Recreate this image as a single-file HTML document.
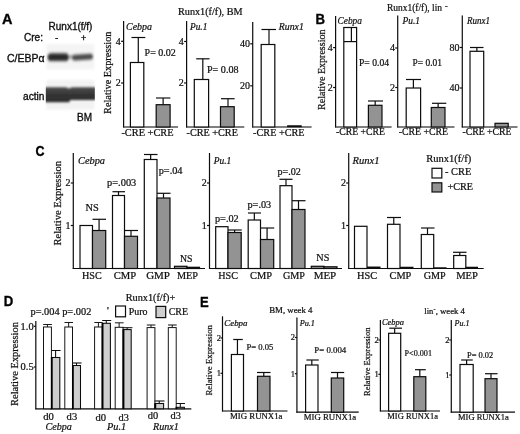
<!DOCTYPE html>
<html lang="en"><head><meta charset="utf-8"><title>Figure</title>
<style>
html,body{margin:0;padding:0;background:#fff;}
body{width:520px;height:434px;overflow:hidden;}
svg{display:block;}
text.s{font-family:"Liberation Serif", serif;stroke:#111;stroke-width:0.22px;}
text.a{font-family:"Liberation Sans", sans-serif;stroke:#111;stroke-width:0.35px;}
</style></head><body>
<svg width="520" height="434" viewBox="0 0 520 434">
<rect x="0" y="0" width="520" height="434" fill="#ffffff"/>
<filter id="soft" x="0" y="0" width="520" height="434" filterUnits="userSpaceOnUse"><feGaussianBlur stdDeviation="0.32"/></filter>
<g filter="url(#soft)">
<text class="a" x="2.00" y="24.00" font-size="14" font-weight="bold" textLength="10.50" lengthAdjust="spacingAndGlyphs" fill="#000">A</text>
<text class="a" x="48.60" y="29.50" font-size="10" textLength="43.80" lengthAdjust="spacingAndGlyphs" fill="#111">Runx1(f/f)</text>
<text class="a" x="24.00" y="41.00" font-size="10" textLength="19.00" lengthAdjust="spacingAndGlyphs" fill="#111">Cre:</text>
<text class="a" x="55.00" y="40.50" font-size="10" fill="#111">-</text>
<text class="a" x="81.00" y="41.00" font-size="9" fill="#111">+</text>
<text class="a" x="7.00" y="61.50" font-size="10" textLength="37.50" lengthAdjust="spacingAndGlyphs" fill="#111">C/EBPα</text>
<text class="a" x="23.00" y="100.00" font-size="10" textLength="21.50" lengthAdjust="spacingAndGlyphs" fill="#111">actin</text>
<text class="a" x="77.00" y="121.00" font-size="10" textLength="15.00" lengthAdjust="spacingAndGlyphs" fill="#111">BM</text>
<defs>
<filter id="b1" x="-30%" y="-80%" width="160%" height="260%"><feGaussianBlur stdDeviation="1.3 1.4"/></filter>
<filter id="b2" x="-30%" y="-80%" width="160%" height="260%"><feGaussianBlur stdDeviation="1.1 1.3"/></filter>
<filter id="b0" x="-10%" y="-10%" width="120%" height="120%"><feGaussianBlur stdDeviation="1"/></filter>
<linearGradient id="g2" x1="0" y1="0" x2="0" y2="1"><stop offset="0" stop-color="#4e4e4e"/><stop offset="0.55" stop-color="#333"/><stop offset="1" stop-color="#2c2c2c"/></linearGradient>
<clipPath id="c1"><rect x="45.8" y="43" width="49" height="27"/></clipPath>
<clipPath id="c2"><rect x="45.8" y="79.5" width="49" height="30.5"/></clipPath>
</defs>
<rect x="46.3" y="44" width="48" height="25.5" fill="#f4f4f4" filter="url(#b0)"/>
<g clip-path="url(#c1)">
<g filter="url(#b1)">
<rect x="56" y="55.3" width="28" height="3.4" fill="#9a9a9a"/>
<rect x="47.6" y="53.3" width="21.2" height="7.8" rx="3.9" fill="#2b2b2b"/>
<rect x="72" y="54.3" width="21" height="5.8" rx="2.9" fill="#484848" transform="rotate(-3.5 82 57)"/>
</g></g>
<rect x="46.3" y="80" width="48" height="29.5" fill="#f2f2f2" filter="url(#b0)"/>
<g clip-path="url(#c2)">
<g filter="url(#b2)">
<path d="M44 87.3 L66 87.3 L69 88.6 L72 87.3 L98 87.3 L98 100 L70.5 100 L69 102.2 L44 102.2 Z" fill="url(#g2)"/>
</g></g>
<text class="s" transform="translate(110.60 113.90) rotate(-90)" font-size="10" textLength="82.30" lengthAdjust="spacingAndGlyphs" fill="#111">Relative Expression</text>
<line x1="123.60" y1="21.00" x2="123.60" y2="127.50" stroke="#0c0c0c" stroke-width="1.2"/>
<line x1="123.10" y1="127.00" x2="178.00" y2="127.00" stroke="#0c0c0c" stroke-width="1.2"/>
<line x1="121.10" y1="41.30" x2="123.60" y2="41.30" stroke="#0c0c0c" stroke-width="1.2"/>
<text class="s" x="120.80" y="44.60" font-size="10" text-anchor="end" fill="#111">4</text>
<line x1="121.10" y1="83.00" x2="123.60" y2="83.00" stroke="#0c0c0c" stroke-width="1.2"/>
<text class="s" x="120.80" y="86.30" font-size="10" text-anchor="end" fill="#111">2</text>
<text class="s" x="126.00" y="29.50" font-size="10" font-style="italic" textLength="26.00" lengthAdjust="spacingAndGlyphs" fill="#111">Cebpa</text>
<line x1="138.30" y1="37.50" x2="138.30" y2="62.50" stroke="#0c0c0c" stroke-width="1.2"/>
<line x1="131.50" y1="37.50" x2="145.30" y2="37.50" stroke="#0c0c0c" stroke-width="1.2"/>
<rect x="130.40" y="62.50" width="13.40" height="64.50" fill="#fff" stroke="#0c0c0c" stroke-width="1.2"/>
<line x1="163.15" y1="98.00" x2="163.15" y2="104.70" stroke="#0c0c0c" stroke-width="1.2"/>
<line x1="156.00" y1="98.00" x2="170.30" y2="98.00" stroke="#0c0c0c" stroke-width="1.2"/>
<rect x="156.20" y="104.70" width="13.90" height="22.30" fill="#939393" stroke="#0c0c0c" stroke-width="1.2"/>
<text class="s" x="144.60" y="56.20" font-size="10" textLength="31.20" lengthAdjust="spacingAndGlyphs" fill="#111">P= 0.02</text>
<text class="s" x="121.40" y="135.70" font-size="10.2" textLength="52.20" lengthAdjust="spacingAndGlyphs" fill="#111">-CRE +CRE</text>
<line x1="186.60" y1="21.00" x2="186.60" y2="127.50" stroke="#0c0c0c" stroke-width="1.2"/>
<line x1="186.10" y1="127.00" x2="244.30" y2="127.00" stroke="#0c0c0c" stroke-width="1.2"/>
<line x1="184.10" y1="41.50" x2="186.60" y2="41.50" stroke="#0c0c0c" stroke-width="1.2"/>
<text class="s" x="183.80" y="44.80" font-size="10" text-anchor="end" fill="#111">4</text>
<line x1="184.10" y1="83.00" x2="186.60" y2="83.00" stroke="#0c0c0c" stroke-width="1.2"/>
<text class="s" x="183.80" y="86.30" font-size="10" text-anchor="end" fill="#111">2</text>
<text class="s" x="190.00" y="29.80" font-size="10" font-style="italic" textLength="17.30" lengthAdjust="spacingAndGlyphs" fill="#111">Pu.1</text>
<line x1="202.80" y1="58.80" x2="202.80" y2="79.50" stroke="#0c0c0c" stroke-width="1.2"/>
<line x1="196.20" y1="58.80" x2="209.50" y2="58.80" stroke="#0c0c0c" stroke-width="1.2"/>
<rect x="194.30" y="79.50" width="14.30" height="47.50" fill="#fff" stroke="#0c0c0c" stroke-width="1.2"/>
<line x1="228.00" y1="98.70" x2="228.00" y2="106.70" stroke="#0c0c0c" stroke-width="1.2"/>
<line x1="221.00" y1="98.70" x2="234.60" y2="98.70" stroke="#0c0c0c" stroke-width="1.2"/>
<rect x="220.50" y="106.70" width="13.70" height="20.30" fill="#939393" stroke="#0c0c0c" stroke-width="1.2"/>
<text class="s" x="207.00" y="73.00" font-size="10" textLength="31.50" lengthAdjust="spacingAndGlyphs" fill="#111">P= 0.08</text>
<text class="s" x="186.50" y="135.90" font-size="10.2" textLength="51.40" lengthAdjust="spacingAndGlyphs" fill="#111">-CRE +CRE</text>
<text class="s" x="178.00" y="14.80" font-size="10" textLength="64.50" lengthAdjust="spacingAndGlyphs" fill="#111">Runx1(f/f), BM</text>
<line x1="252.70" y1="22.00" x2="252.70" y2="127.50" stroke="#0c0c0c" stroke-width="1.2"/>
<line x1="252.20" y1="127.00" x2="311.60" y2="127.00" stroke="#0c0c0c" stroke-width="1.2"/>
<line x1="250.20" y1="43.80" x2="252.70" y2="43.80" stroke="#0c0c0c" stroke-width="1.2"/>
<text class="s" x="249.90" y="47.10" font-size="10" text-anchor="end" fill="#111">40</text>
<line x1="250.20" y1="85.80" x2="252.70" y2="85.80" stroke="#0c0c0c" stroke-width="1.2"/>
<text class="s" x="249.90" y="89.10" font-size="10" text-anchor="end" fill="#111">20</text>
<text class="s" x="278.80" y="29.80" font-size="10" font-style="italic" textLength="25.00" lengthAdjust="spacingAndGlyphs" fill="#111">Runx1</text>
<line x1="269.00" y1="29.50" x2="269.00" y2="44.50" stroke="#0c0c0c" stroke-width="1.2"/>
<line x1="261.50" y1="29.50" x2="276.00" y2="29.50" stroke="#0c0c0c" stroke-width="1.2"/>
<rect x="261.20" y="44.50" width="13.60" height="82.50" fill="#fff" stroke="#0c0c0c" stroke-width="1.2"/>
<rect x="287.60" y="125.80" width="13.60" height="1.00" fill="#0c0c0c" stroke="#0c0c0c" stroke-width="1"/>
<text class="s" x="253.10" y="136.30" font-size="10.2" textLength="51.50" lengthAdjust="spacingAndGlyphs" fill="#111">-CRE +CRE</text>
<text class="a" x="315.50" y="24.00" font-size="14" font-weight="bold" textLength="9.50" lengthAdjust="spacingAndGlyphs" fill="#000">B</text>
<text class="s" transform="translate(325.00 110.00) rotate(-90)" font-size="10" textLength="80.50" lengthAdjust="spacingAndGlyphs" fill="#111">Relative Expression</text>
<text class="s" x="387.00" y="11.30" font-size="10" textLength="55.00" lengthAdjust="spacingAndGlyphs" fill="#111">Runx1(f/f), lin</text>
<text class="s" x="445.00" y="8.50" font-size="8" fill="#111">-</text>
<line x1="335.60" y1="16.00" x2="335.60" y2="127.50" stroke="#0c0c0c" stroke-width="1.2"/>
<line x1="335.10" y1="127.00" x2="391.60" y2="127.00" stroke="#0c0c0c" stroke-width="1.2"/>
<line x1="333.10" y1="47.60" x2="335.60" y2="47.60" stroke="#0c0c0c" stroke-width="1.2"/>
<text class="s" x="332.80" y="50.90" font-size="10" text-anchor="end" fill="#111">4</text>
<line x1="333.10" y1="87.50" x2="335.60" y2="87.50" stroke="#0c0c0c" stroke-width="1.2"/>
<text class="s" x="332.80" y="90.80" font-size="10" text-anchor="end" fill="#111">2</text>
<text class="s" x="337.50" y="24.00" font-size="10" font-style="italic" textLength="24.50" lengthAdjust="spacingAndGlyphs" fill="#111">Cebpa</text>
<rect x="343.80" y="27.50" width="12.80" height="99.50" fill="#fff" stroke="#0c0c0c" stroke-width="1.2"/>
<line x1="351.40" y1="27.50" x2="351.40" y2="41.60" stroke="#0c0c0c" stroke-width="1.2"/>
<line x1="344.00" y1="41.60" x2="357.00" y2="41.60" stroke="#0c0c0c" stroke-width="1.2"/>
<line x1="375.20" y1="101.00" x2="375.20" y2="105.30" stroke="#0c0c0c" stroke-width="1.2"/>
<line x1="368.00" y1="101.00" x2="383.00" y2="101.00" stroke="#0c0c0c" stroke-width="1.2"/>
<rect x="368.40" y="105.30" width="13.60" height="21.70" fill="#939393" stroke="#0c0c0c" stroke-width="1.2"/>
<text class="s" x="359.00" y="65.50" font-size="10" textLength="30.00" lengthAdjust="spacingAndGlyphs" fill="#111">P= 0.04</text>
<text class="s" x="336.00" y="135.20" font-size="10" textLength="49.00" lengthAdjust="spacingAndGlyphs" fill="#111">-CRE +CRE</text>
<line x1="397.70" y1="15.50" x2="397.70" y2="127.50" stroke="#0c0c0c" stroke-width="1.2"/>
<line x1="397.20" y1="127.00" x2="454.50" y2="127.00" stroke="#0c0c0c" stroke-width="1.2"/>
<line x1="395.20" y1="48.00" x2="397.70" y2="48.00" stroke="#0c0c0c" stroke-width="1.2"/>
<text class="s" x="394.90" y="51.30" font-size="10" text-anchor="end" fill="#111">4</text>
<line x1="395.20" y1="87.50" x2="397.70" y2="87.50" stroke="#0c0c0c" stroke-width="1.2"/>
<text class="s" x="394.90" y="90.80" font-size="10" text-anchor="end" fill="#111">2</text>
<text class="s" x="402.50" y="24.00" font-size="10" font-style="italic" textLength="17.50" lengthAdjust="spacingAndGlyphs" fill="#111">Pu.1</text>
<line x1="413.40" y1="79.50" x2="413.40" y2="88.00" stroke="#0c0c0c" stroke-width="1.2"/>
<line x1="406.00" y1="79.50" x2="421.00" y2="79.50" stroke="#0c0c0c" stroke-width="1.2"/>
<rect x="406.20" y="88.00" width="14.40" height="39.00" fill="#fff" stroke="#0c0c0c" stroke-width="1.2"/>
<line x1="438.15" y1="103.30" x2="438.15" y2="107.50" stroke="#0c0c0c" stroke-width="1.2"/>
<line x1="432.00" y1="103.30" x2="446.30" y2="103.30" stroke="#0c0c0c" stroke-width="1.2"/>
<rect x="431.30" y="107.50" width="13.70" height="19.50" fill="#939393" stroke="#0c0c0c" stroke-width="1.2"/>
<text class="s" x="412.50" y="65.50" font-size="10" textLength="29.50" lengthAdjust="spacingAndGlyphs" fill="#111">P= 0.01</text>
<text class="s" x="398.70" y="135.20" font-size="10" textLength="49.40" lengthAdjust="spacingAndGlyphs" fill="#111">-CRE +CRE</text>
<line x1="462.30" y1="15.50" x2="462.30" y2="127.50" stroke="#0c0c0c" stroke-width="1.2"/>
<line x1="461.80" y1="127.00" x2="517.50" y2="127.00" stroke="#0c0c0c" stroke-width="1.2"/>
<line x1="459.80" y1="47.50" x2="462.30" y2="47.50" stroke="#0c0c0c" stroke-width="1.2"/>
<text class="s" x="459.50" y="50.80" font-size="10" text-anchor="end" fill="#111">80</text>
<line x1="459.80" y1="88.00" x2="462.30" y2="88.00" stroke="#0c0c0c" stroke-width="1.2"/>
<text class="s" x="459.50" y="91.30" font-size="10" text-anchor="end" fill="#111">40</text>
<text class="s" x="467.00" y="24.00" font-size="10" font-style="italic" textLength="23.00" lengthAdjust="spacingAndGlyphs" fill="#111">Runx1</text>
<line x1="476.85" y1="47.50" x2="476.85" y2="51.30" stroke="#0c0c0c" stroke-width="1.2"/>
<line x1="470.00" y1="47.50" x2="483.50" y2="47.50" stroke="#0c0c0c" stroke-width="1.2"/>
<rect x="470.00" y="51.30" width="13.70" height="75.70" fill="#fff" stroke="#0c0c0c" stroke-width="1.2"/>
<rect x="495.00" y="123.30" width="13.20" height="3.70" fill="#939393" stroke="#0c0c0c" stroke-width="1.2"/>
<text class="s" x="462.40" y="135.20" font-size="10" textLength="49.20" lengthAdjust="spacingAndGlyphs" fill="#111">-CRE +CRE</text>
<text class="a" x="35.50" y="156.00" font-size="14" font-weight="bold" textLength="9.00" lengthAdjust="spacingAndGlyphs" fill="#000">C</text>
<text class="s" transform="translate(60.70 245.50) rotate(-90)" font-size="10" textLength="84.50" lengthAdjust="spacingAndGlyphs" fill="#111">Relative Expression</text>
<line x1="73.30" y1="153.00" x2="73.30" y2="269.00" stroke="#0c0c0c" stroke-width="1.2"/>
<line x1="72.80" y1="268.50" x2="205.00" y2="268.50" stroke="#0c0c0c" stroke-width="1.2"/>
<line x1="70.80" y1="183.00" x2="73.30" y2="183.00" stroke="#0c0c0c" stroke-width="1.2"/>
<text class="s" x="70.50" y="186.30" font-size="10" text-anchor="end" fill="#111">2</text>
<line x1="70.80" y1="225.50" x2="73.30" y2="225.50" stroke="#0c0c0c" stroke-width="1.2"/>
<text class="s" x="70.50" y="228.80" font-size="10" text-anchor="end" fill="#111">1</text>
<text class="s" x="78.00" y="163.50" font-size="10" font-style="italic" textLength="27.00" lengthAdjust="spacingAndGlyphs" fill="#111">Cebpa</text>
<rect x="80.00" y="225.50" width="12.50" height="43.00" fill="#fff" stroke="#0c0c0c" stroke-width="1.2"/>
<line x1="99.10" y1="219.30" x2="99.10" y2="230.50" stroke="#0c0c0c" stroke-width="1.2"/>
<line x1="92.50" y1="219.30" x2="106.00" y2="219.30" stroke="#0c0c0c" stroke-width="1.2"/>
<rect x="92.50" y="230.50" width="13.20" height="38.00" fill="#939393" stroke="#0c0c0c" stroke-width="1.2"/>
<line x1="118.50" y1="191.70" x2="118.50" y2="195.50" stroke="#0c0c0c" stroke-width="1.2"/>
<line x1="112.50" y1="191.70" x2="125.00" y2="191.70" stroke="#0c0c0c" stroke-width="1.2"/>
<rect x="112.50" y="195.50" width="12.00" height="73.00" fill="#fff" stroke="#0c0c0c" stroke-width="1.2"/>
<line x1="131.00" y1="230.50" x2="131.00" y2="236.30" stroke="#0c0c0c" stroke-width="1.2"/>
<line x1="124.50" y1="230.50" x2="138.00" y2="230.50" stroke="#0c0c0c" stroke-width="1.2"/>
<rect x="124.50" y="236.30" width="13.00" height="32.20" fill="#939393" stroke="#0c0c0c" stroke-width="1.2"/>
<line x1="150.65" y1="154.50" x2="150.65" y2="159.50" stroke="#0c0c0c" stroke-width="1.2"/>
<line x1="144.00" y1="154.50" x2="157.50" y2="154.50" stroke="#0c0c0c" stroke-width="1.2"/>
<rect x="144.30" y="159.50" width="12.70" height="109.00" fill="#fff" stroke="#0c0c0c" stroke-width="1.2"/>
<line x1="163.50" y1="193.30" x2="163.50" y2="198.00" stroke="#0c0c0c" stroke-width="1.2"/>
<line x1="157.00" y1="193.30" x2="170.50" y2="193.30" stroke="#0c0c0c" stroke-width="1.2"/>
<rect x="157.00" y="198.00" width="13.00" height="70.50" fill="#939393" stroke="#0c0c0c" stroke-width="1.2"/>
<rect x="174.50" y="266.30" width="12.50" height="2.20" fill="#939393" stroke="#0c0c0c" stroke-width="1.2"/>
<rect x="187.00" y="267.30" width="12.50" height="1.20" fill="#939393" stroke="#0c0c0c" stroke-width="1.2"/>
<text class="s" x="85.50" y="211.30" font-size="10" textLength="13.30" lengthAdjust="spacingAndGlyphs" fill="#111">NS</text>
<text class="s" x="107.00" y="186.30" font-size="10" textLength="29.30" lengthAdjust="spacingAndGlyphs" fill="#111">p=.003</text>
<text class="s" x="158.70" y="173.70" font-size="10" textLength="23.80" lengthAdjust="spacingAndGlyphs" fill="#111">p=.04</text>
<text class="s" x="180.00" y="261.70" font-size="10" textLength="12.50" lengthAdjust="spacingAndGlyphs" fill="#111">NS</text>
<text class="s" x="82.00" y="279.00" font-size="10" textLength="19.70" lengthAdjust="spacingAndGlyphs" fill="#111">HSC</text>
<text class="s" x="113.70" y="279.00" font-size="10" textLength="22.50" lengthAdjust="spacingAndGlyphs" fill="#111">CMP</text>
<text class="s" x="146.20" y="279.00" font-size="10" textLength="23.80" lengthAdjust="spacingAndGlyphs" fill="#111">GMP</text>
<text class="s" x="177.00" y="279.00" font-size="10" textLength="21.00" lengthAdjust="spacingAndGlyphs" fill="#111">MEP</text>
<line x1="209.50" y1="153.00" x2="209.50" y2="269.00" stroke="#0c0c0c" stroke-width="1.2"/>
<line x1="209.00" y1="268.50" x2="342.00" y2="268.50" stroke="#0c0c0c" stroke-width="1.2"/>
<line x1="207.00" y1="183.00" x2="209.50" y2="183.00" stroke="#0c0c0c" stroke-width="1.2"/>
<text class="s" x="206.70" y="186.30" font-size="10" text-anchor="end" fill="#111">2</text>
<line x1="207.00" y1="225.50" x2="209.50" y2="225.50" stroke="#0c0c0c" stroke-width="1.2"/>
<text class="s" x="206.70" y="228.80" font-size="10" text-anchor="end" fill="#111">1</text>
<text class="s" x="213.70" y="164.30" font-size="10" font-style="italic" textLength="17.50" lengthAdjust="spacingAndGlyphs" fill="#111">Pu.1</text>
<rect x="215.70" y="226.70" width="12.30" height="41.80" fill="#fff" stroke="#0c0c0c" stroke-width="1.2"/>
<line x1="234.60" y1="230.00" x2="234.60" y2="232.50" stroke="#0c0c0c" stroke-width="1.2"/>
<line x1="228.00" y1="230.00" x2="241.70" y2="230.00" stroke="#0c0c0c" stroke-width="1.2"/>
<rect x="228.00" y="232.50" width="13.20" height="36.00" fill="#939393" stroke="#0c0c0c" stroke-width="1.2"/>
<line x1="254.35" y1="213.00" x2="254.35" y2="220.00" stroke="#0c0c0c" stroke-width="1.2"/>
<line x1="248.00" y1="213.00" x2="261.00" y2="213.00" stroke="#0c0c0c" stroke-width="1.2"/>
<rect x="248.20" y="220.00" width="12.30" height="48.50" fill="#fff" stroke="#0c0c0c" stroke-width="1.2"/>
<line x1="267.10" y1="228.00" x2="267.10" y2="239.50" stroke="#0c0c0c" stroke-width="1.2"/>
<line x1="260.50" y1="228.00" x2="274.20" y2="228.00" stroke="#0c0c0c" stroke-width="1.2"/>
<rect x="260.50" y="239.50" width="13.20" height="29.00" fill="#939393" stroke="#0c0c0c" stroke-width="1.2"/>
<line x1="286.00" y1="179.30" x2="286.00" y2="185.70" stroke="#0c0c0c" stroke-width="1.2"/>
<line x1="279.50" y1="179.30" x2="292.50" y2="179.30" stroke="#0c0c0c" stroke-width="1.2"/>
<rect x="280.00" y="185.70" width="12.00" height="82.80" fill="#fff" stroke="#0c0c0c" stroke-width="1.2"/>
<line x1="298.50" y1="200.70" x2="298.50" y2="209.50" stroke="#0c0c0c" stroke-width="1.2"/>
<line x1="292.00" y1="200.70" x2="305.50" y2="200.70" stroke="#0c0c0c" stroke-width="1.2"/>
<rect x="292.00" y="209.50" width="13.00" height="59.00" fill="#939393" stroke="#0c0c0c" stroke-width="1.2"/>
<rect x="311.30" y="266.30" width="12.70" height="2.20" fill="#939393" stroke="#0c0c0c" stroke-width="1.2"/>
<rect x="324.00" y="266.80" width="13.00" height="1.70" fill="#939393" stroke="#0c0c0c" stroke-width="1.2"/>
<text class="s" x="215.00" y="221.70" font-size="10" textLength="23.70" lengthAdjust="spacingAndGlyphs" fill="#111">p=.02</text>
<text class="s" x="247.50" y="207.50" font-size="10" textLength="23.70" lengthAdjust="spacingAndGlyphs" fill="#111">p=.03</text>
<text class="s" x="277.50" y="175.00" font-size="10" textLength="23.30" lengthAdjust="spacingAndGlyphs" fill="#111">p=.02</text>
<text class="s" x="316.30" y="261.30" font-size="10" textLength="13.00" lengthAdjust="spacingAndGlyphs" fill="#111">NS</text>
<text class="s" x="218.30" y="279.00" font-size="10" textLength="19.70" lengthAdjust="spacingAndGlyphs" fill="#111">HSC</text>
<text class="s" x="250.00" y="279.00" font-size="10" textLength="22.00" lengthAdjust="spacingAndGlyphs" fill="#111">CMP</text>
<text class="s" x="283.00" y="279.00" font-size="10" textLength="22.00" lengthAdjust="spacingAndGlyphs" fill="#111">GMP</text>
<text class="s" x="313.70" y="279.00" font-size="10" textLength="22.50" lengthAdjust="spacingAndGlyphs" fill="#111">MEP</text>
<line x1="348.70" y1="153.00" x2="348.70" y2="269.00" stroke="#0c0c0c" stroke-width="1.2"/>
<line x1="348.20" y1="268.50" x2="483.70" y2="268.50" stroke="#0c0c0c" stroke-width="1.2"/>
<line x1="346.20" y1="183.00" x2="348.70" y2="183.00" stroke="#0c0c0c" stroke-width="1.2"/>
<text class="s" x="345.90" y="186.30" font-size="10" text-anchor="end" fill="#111">2</text>
<line x1="346.20" y1="225.50" x2="348.70" y2="225.50" stroke="#0c0c0c" stroke-width="1.2"/>
<text class="s" x="345.90" y="228.80" font-size="10" text-anchor="end" fill="#111">1</text>
<text class="s" x="352.50" y="164.00" font-size="10" font-style="italic" textLength="27.00" lengthAdjust="spacingAndGlyphs" fill="#111">Runx1</text>
<rect x="354.50" y="226.30" width="12.50" height="42.20" fill="#fff" stroke="#0c0c0c" stroke-width="1.2"/>
<line x1="367.00" y1="267.50" x2="380.50" y2="267.50" stroke="#0c0c0c" stroke-width="1.9"/>
<line x1="393.75" y1="217.50" x2="393.75" y2="224.30" stroke="#0c0c0c" stroke-width="1.2"/>
<line x1="387.00" y1="217.50" x2="401.00" y2="217.50" stroke="#0c0c0c" stroke-width="1.2"/>
<rect x="387.50" y="224.30" width="12.50" height="44.20" fill="#fff" stroke="#0c0c0c" stroke-width="1.2"/>
<line x1="400.00" y1="267.60" x2="413.50" y2="267.60" stroke="#0c0c0c" stroke-width="1.7"/>
<line x1="427.50" y1="228.00" x2="427.50" y2="234.50" stroke="#0c0c0c" stroke-width="1.2"/>
<line x1="421.00" y1="228.00" x2="434.50" y2="228.00" stroke="#0c0c0c" stroke-width="1.2"/>
<rect x="421.30" y="234.50" width="12.40" height="34.00" fill="#fff" stroke="#0c0c0c" stroke-width="1.2"/>
<line x1="433.70" y1="267.90" x2="446.50" y2="267.90" stroke="#0c0c0c" stroke-width="1.3"/>
<line x1="459.75" y1="252.30" x2="459.75" y2="255.50" stroke="#0c0c0c" stroke-width="1.2"/>
<line x1="453.00" y1="252.30" x2="466.50" y2="252.30" stroke="#0c0c0c" stroke-width="1.2"/>
<rect x="453.70" y="255.50" width="12.10" height="13.00" fill="#fff" stroke="#0c0c0c" stroke-width="1.2"/>
<line x1="465.80" y1="267.60" x2="478.00" y2="267.60" stroke="#0c0c0c" stroke-width="1.7"/>
<text class="s" x="357.00" y="279.30" font-size="10" textLength="20.00" lengthAdjust="spacingAndGlyphs" fill="#111">HSC</text>
<text class="s" x="389.50" y="279.30" font-size="10" textLength="21.80" lengthAdjust="spacingAndGlyphs" fill="#111">CMP</text>
<text class="s" x="423.70" y="279.30" font-size="10" textLength="22.00" lengthAdjust="spacingAndGlyphs" fill="#111">GMP</text>
<text class="s" x="456.20" y="279.30" font-size="10" textLength="21.80" lengthAdjust="spacingAndGlyphs" fill="#111">MEP</text>
<text class="s" x="426.30" y="161.90" font-size="10" textLength="45.00" lengthAdjust="spacingAndGlyphs" fill="#111">Runx1(f/f)</text>
<rect x="432.00" y="168.30" width="9.80" height="9.70" fill="#fff" stroke="#0c0c0c" stroke-width="1.2"/>
<text class="s" x="445.00" y="174.50" font-size="10" textLength="26.30" lengthAdjust="spacingAndGlyphs" fill="#111">- CRE</text>
<rect x="432.00" y="182.80" width="9.80" height="9.20" fill="#939393" stroke="#0c0c0c" stroke-width="1.2"/>
<text class="s" x="447.50" y="190.00" font-size="10" textLength="25.50" lengthAdjust="spacingAndGlyphs" fill="#111">+CRE</text>
<text class="a" x="3.70" y="306.00" font-size="14" font-weight="bold" textLength="9.50" lengthAdjust="spacingAndGlyphs" fill="#000">D</text>
<text class="s" transform="translate(18.00 406.00) rotate(-90)" font-size="10" textLength="84.00" lengthAdjust="spacingAndGlyphs" fill="#111">Relative Expression</text>
<line x1="35.80" y1="321.00" x2="35.80" y2="409.30" stroke="#0c0c0c" stroke-width="1.2"/>
<line x1="35.30" y1="408.80" x2="191.30" y2="408.80" stroke="#0c0c0c" stroke-width="1.2"/>
<line x1="33.80" y1="326.30" x2="35.80" y2="326.30" stroke="#0c0c0c" stroke-width="1.2"/>
<text class="s" x="33.60" y="329.60" font-size="10" text-anchor="end" textLength="13.00" lengthAdjust="spacingAndGlyphs" fill="#111">1.0</text>
<line x1="33.80" y1="367.00" x2="35.80" y2="367.00" stroke="#0c0c0c" stroke-width="1.2"/>
<text class="s" x="33.60" y="370.30" font-size="10" text-anchor="end" textLength="13.00" lengthAdjust="spacingAndGlyphs" fill="#111">0.5</text>
<line x1="47.45" y1="324.50" x2="47.45" y2="327.00" stroke="#0c0c0c" stroke-width="0.95"/>
<line x1="43.20" y1="324.50" x2="51.90" y2="324.50" stroke="#0c0c0c" stroke-width="0.95"/>
<rect x="43.50" y="327.00" width="7.90" height="81.80" fill="#fff" stroke="#0c0c0c" stroke-width="0.95"/>
<line x1="55.60" y1="350.50" x2="55.60" y2="357.50" stroke="#0c0c0c" stroke-width="1.05"/>
<line x1="51.40" y1="350.50" x2="60.60" y2="350.50" stroke="#0c0c0c" stroke-width="1.05"/>
<rect x="51.40" y="357.50" width="8.40" height="51.30" fill="#cecece" stroke="#0c0c0c" stroke-width="1.05"/>
<line x1="51.85" y1="357.20" x2="51.85" y2="408.80" stroke="#000" stroke-width="1.7"/>
<line x1="68.65" y1="322.50" x2="68.65" y2="327.00" stroke="#0c0c0c" stroke-width="0.95"/>
<line x1="64.50" y1="322.50" x2="73.00" y2="322.50" stroke="#0c0c0c" stroke-width="0.95"/>
<rect x="64.80" y="327.00" width="7.70" height="81.80" fill="#fff" stroke="#0c0c0c" stroke-width="0.95"/>
<line x1="76.50" y1="363.00" x2="76.50" y2="365.50" stroke="#0c0c0c" stroke-width="1.05"/>
<line x1="73.00" y1="363.00" x2="81.50" y2="363.00" stroke="#0c0c0c" stroke-width="1.05"/>
<rect x="72.50" y="365.50" width="8.00" height="43.30" fill="#cecece" stroke="#0c0c0c" stroke-width="1.05"/>
<line x1="72.95" y1="365.20" x2="72.95" y2="408.80" stroke="#000" stroke-width="1.7"/>
<line x1="98.40" y1="322.50" x2="98.40" y2="327.00" stroke="#0c0c0c" stroke-width="0.95"/>
<line x1="94.30" y1="322.50" x2="102.70" y2="322.50" stroke="#0c0c0c" stroke-width="0.95"/>
<rect x="94.60" y="327.00" width="7.60" height="81.80" fill="#fff" stroke="#0c0c0c" stroke-width="0.95"/>
<line x1="106.30" y1="320.50" x2="106.30" y2="323.30" stroke="#0c0c0c" stroke-width="1.05"/>
<line x1="102.20" y1="320.50" x2="111.20" y2="320.50" stroke="#0c0c0c" stroke-width="1.05"/>
<rect x="102.20" y="323.30" width="8.20" height="85.50" fill="#cecece" stroke="#0c0c0c" stroke-width="1.05"/>
<line x1="102.65" y1="323.00" x2="102.65" y2="408.80" stroke="#000" stroke-width="1.7"/>
<line x1="119.15" y1="322.80" x2="119.15" y2="327.30" stroke="#0c0c0c" stroke-width="0.95"/>
<line x1="114.90" y1="322.80" x2="123.60" y2="322.80" stroke="#0c0c0c" stroke-width="0.95"/>
<rect x="115.20" y="327.30" width="7.90" height="81.50" fill="#fff" stroke="#0c0c0c" stroke-width="0.95"/>
<line x1="127.15" y1="327.70" x2="127.15" y2="329.60" stroke="#0c0c0c" stroke-width="1.05"/>
<line x1="122.50" y1="327.70" x2="132.40" y2="327.70" stroke="#0c0c0c" stroke-width="1.05"/>
<rect x="123.10" y="329.60" width="8.10" height="79.20" fill="#cecece" stroke="#0c0c0c" stroke-width="1.05"/>
<line x1="123.55" y1="329.30" x2="123.55" y2="408.80" stroke="#000" stroke-width="1.7"/>
<line x1="151.00" y1="325.00" x2="151.00" y2="327.60" stroke="#0c0c0c" stroke-width="0.95"/>
<line x1="146.80" y1="325.00" x2="155.40" y2="325.00" stroke="#0c0c0c" stroke-width="0.95"/>
<rect x="147.10" y="327.60" width="7.80" height="81.20" fill="#fff" stroke="#0c0c0c" stroke-width="0.95"/>
<line x1="159.25" y1="401.00" x2="159.25" y2="403.50" stroke="#0c0c0c" stroke-width="1.05"/>
<line x1="154.50" y1="401.00" x2="164.50" y2="401.00" stroke="#0c0c0c" stroke-width="1.05"/>
<rect x="154.90" y="403.50" width="8.70" height="5.30" fill="#cecece" stroke="#0c0c0c" stroke-width="1.05"/>
<line x1="155.35" y1="403.20" x2="155.35" y2="408.80" stroke="#000" stroke-width="1.7"/>
<line x1="172.25" y1="325.00" x2="172.25" y2="327.60" stroke="#0c0c0c" stroke-width="0.95"/>
<line x1="168.00" y1="325.00" x2="176.70" y2="325.00" stroke="#0c0c0c" stroke-width="0.95"/>
<rect x="168.30" y="327.60" width="7.90" height="81.20" fill="#fff" stroke="#0c0c0c" stroke-width="0.95"/>
<line x1="180.30" y1="403.50" x2="180.30" y2="407.30" stroke="#0c0c0c" stroke-width="1.05"/>
<line x1="176.20" y1="403.50" x2="185.00" y2="403.50" stroke="#0c0c0c" stroke-width="1.05"/>
<rect x="176.20" y="407.30" width="8.20" height="1.50" fill="#cecece" stroke="#0c0c0c" stroke-width="1.05"/>
<line x1="176.65" y1="407.00" x2="176.65" y2="408.80" stroke="#000" stroke-width="1.7"/>
<text class="s" x="30.50" y="314.80" font-size="10" textLength="60.80" lengthAdjust="spacingAndGlyphs" fill="#111">p=.004 p=.002</text>
<text class="s" x="106.60" y="314.00" font-size="10" font-weight="bold" fill="#111">'</text>
<text class="s" x="125.80" y="301.30" font-size="10" textLength="49.40" lengthAdjust="spacingAndGlyphs" fill="#111">Runx1(f/f)+</text>
<rect x="115.60" y="306.00" width="9.90" height="10.80" fill="#fff" stroke="#0c0c0c" stroke-width="1.2"/>
<text class="s" x="128.70" y="314.50" font-size="10" textLength="18.80" lengthAdjust="spacingAndGlyphs" fill="#111">Puro</text>
<rect x="156.00" y="306.40" width="9.70" height="11.20" fill="#cecece" stroke="#0c0c0c" stroke-width="1.2"/>
<text class="s" x="168.70" y="314.50" font-size="10" textLength="19.30" lengthAdjust="spacingAndGlyphs" fill="#111">CRE</text>
<text class="s" x="43.30" y="420.00" font-size="10" textLength="10.60" lengthAdjust="spacingAndGlyphs" fill="#111">d0</text>
<text class="s" x="66.60" y="420.00" font-size="10" textLength="10.60" lengthAdjust="spacingAndGlyphs" fill="#111">d3</text>
<text class="s" x="95.50" y="420.80" font-size="10" textLength="10.60" lengthAdjust="spacingAndGlyphs" fill="#111">d0</text>
<text class="s" x="118.60" y="420.80" font-size="10" textLength="10.40" lengthAdjust="spacingAndGlyphs" fill="#111">d3</text>
<text class="s" x="147.80" y="418.80" font-size="10" textLength="10.40" lengthAdjust="spacingAndGlyphs" fill="#111">d0</text>
<text class="s" x="170.60" y="418.80" font-size="10" textLength="10.40" lengthAdjust="spacingAndGlyphs" fill="#111">d3</text>
<text class="s" x="45.50" y="429.90" font-size="10" font-style="italic" textLength="26.40" lengthAdjust="spacingAndGlyphs" fill="#111">Cebpa</text>
<text class="s" x="107.00" y="429.70" font-size="10" font-style="italic" textLength="19.20" lengthAdjust="spacingAndGlyphs" fill="#111">Pu.1</text>
<text class="s" x="153.00" y="429.70" font-size="10" font-style="italic" textLength="25.80" lengthAdjust="spacingAndGlyphs" fill="#111">Runx1</text>
<text class="a" x="200.00" y="306.70" font-size="14" font-weight="bold" textLength="8.70" lengthAdjust="spacingAndGlyphs" fill="#000">E</text>
<text class="s" transform="translate(212.30 395.50) rotate(-90)" font-size="8.5" textLength="70.50" lengthAdjust="spacingAndGlyphs" fill="#111">Relative Expression</text>
<text class="s" x="269.20" y="312.70" font-size="8.5" textLength="43.30" lengthAdjust="spacingAndGlyphs" fill="#111">BM, week 4</text>
<line x1="222.50" y1="316.30" x2="222.50" y2="411.50" stroke="#0c0c0c" stroke-width="1.2"/>
<line x1="222.00" y1="411.00" x2="287.50" y2="411.00" stroke="#0c0c0c" stroke-width="1.2"/>
<line x1="220.50" y1="338.00" x2="222.50" y2="338.00" stroke="#0c0c0c" stroke-width="1.2"/>
<text class="s" x="221.00" y="340.81" font-size="8.5" text-anchor="end" fill="#111">2</text>
<line x1="220.50" y1="373.30" x2="222.50" y2="373.30" stroke="#0c0c0c" stroke-width="1.2"/>
<text class="s" x="221.00" y="376.11" font-size="8.5" text-anchor="end" fill="#111">1</text>
<text class="s" x="224.30" y="325.50" font-size="8.5" font-style="italic" textLength="23.20" lengthAdjust="spacingAndGlyphs" fill="#111">Cebpa</text>
<line x1="237.45" y1="339.50" x2="237.45" y2="354.50" stroke="#0c0c0c" stroke-width="1.2"/>
<line x1="233.20" y1="339.50" x2="242.80" y2="339.50" stroke="#0c0c0c" stroke-width="1.2"/>
<rect x="231.40" y="354.50" width="12.10" height="56.50" fill="#fff" stroke="#0c0c0c" stroke-width="1.2"/>
<line x1="263.75" y1="372.50" x2="263.75" y2="376.30" stroke="#0c0c0c" stroke-width="1.2"/>
<line x1="257.00" y1="372.50" x2="270.50" y2="372.50" stroke="#0c0c0c" stroke-width="1.2"/>
<rect x="257.50" y="376.30" width="12.50" height="34.70" fill="#939393" stroke="#0c0c0c" stroke-width="1.2"/>
<text class="s" x="246.40" y="350.00" font-size="8.5" textLength="27.00" lengthAdjust="spacingAndGlyphs" fill="#111">P= 0.05</text>
<text class="s" x="230.00" y="419.20" font-size="8.5" textLength="52.50" lengthAdjust="spacingAndGlyphs" fill="#111">MIG RUNX1a</text>
<line x1="296.90" y1="317.50" x2="296.90" y2="412.70" stroke="#0c0c0c" stroke-width="1.2"/>
<line x1="296.40" y1="412.20" x2="358.70" y2="412.20" stroke="#0c0c0c" stroke-width="1.2"/>
<line x1="294.90" y1="337.50" x2="296.90" y2="337.50" stroke="#0c0c0c" stroke-width="1.2"/>
<text class="s" x="295.00" y="340.31" font-size="8.5" text-anchor="end" fill="#111">2</text>
<line x1="294.90" y1="373.70" x2="296.90" y2="373.70" stroke="#0c0c0c" stroke-width="1.2"/>
<text class="s" x="295.00" y="376.50" font-size="8.5" text-anchor="end" fill="#111">1</text>
<text class="s" x="299.70" y="325.70" font-size="8.5" font-style="italic" textLength="15.30" lengthAdjust="spacingAndGlyphs" fill="#111">Pu.1</text>
<line x1="311.80" y1="360.00" x2="311.80" y2="365.00" stroke="#0c0c0c" stroke-width="1.2"/>
<line x1="306.40" y1="360.00" x2="318.70" y2="360.00" stroke="#0c0c0c" stroke-width="1.2"/>
<rect x="305.60" y="365.00" width="12.40" height="47.20" fill="#fff" stroke="#0c0c0c" stroke-width="1.2"/>
<line x1="337.50" y1="372.50" x2="337.50" y2="378.00" stroke="#0c0c0c" stroke-width="1.2"/>
<line x1="331.00" y1="372.50" x2="344.20" y2="372.50" stroke="#0c0c0c" stroke-width="1.2"/>
<rect x="331.30" y="378.00" width="12.40" height="34.20" fill="#939393" stroke="#0c0c0c" stroke-width="1.2"/>
<text class="s" x="314.30" y="352.50" font-size="8.5" textLength="32.00" lengthAdjust="spacingAndGlyphs" fill="#111">P= 0.004</text>
<text class="s" x="303.70" y="419.80" font-size="8.5" textLength="52.50" lengthAdjust="spacingAndGlyphs" fill="#111">MIG RUNX1a</text>
<text class="s" transform="translate(369.70 396.00) rotate(-90)" font-size="8.5" textLength="68.50" lengthAdjust="spacingAndGlyphs" fill="#111">Relative Expression</text>
<text class="s" x="424.30" y="313.70" font-size="8.5" textLength="9.00" lengthAdjust="spacingAndGlyphs" fill="#111">lin</text>
<text class="s" x="433.50" y="310.70" font-size="6" fill="#111">-</text>
<text class="s" x="435.70" y="313.70" font-size="8.5" textLength="29.30" lengthAdjust="spacingAndGlyphs" fill="#111">, week 4</text>
<line x1="380.40" y1="320.00" x2="380.40" y2="411.50" stroke="#0c0c0c" stroke-width="1.2"/>
<line x1="379.90" y1="411.00" x2="440.00" y2="411.00" stroke="#0c0c0c" stroke-width="1.2"/>
<line x1="378.40" y1="340.00" x2="380.40" y2="340.00" stroke="#0c0c0c" stroke-width="1.2"/>
<text class="s" x="378.80" y="342.81" font-size="8.5" text-anchor="end" fill="#111">2</text>
<line x1="378.40" y1="374.30" x2="380.40" y2="374.30" stroke="#0c0c0c" stroke-width="1.2"/>
<text class="s" x="378.80" y="377.11" font-size="8.5" text-anchor="end" fill="#111">1</text>
<text class="s" x="381.90" y="324.60" font-size="8.5" font-style="italic" textLength="22.00" lengthAdjust="spacingAndGlyphs" fill="#111">Cebpa</text>
<line x1="394.65" y1="328.20" x2="394.65" y2="333.30" stroke="#0c0c0c" stroke-width="1.2"/>
<line x1="389.30" y1="328.20" x2="402.00" y2="328.20" stroke="#0c0c0c" stroke-width="1.2"/>
<rect x="388.60" y="333.30" width="12.10" height="77.70" fill="#fff" stroke="#0c0c0c" stroke-width="1.2"/>
<line x1="419.80" y1="369.70" x2="419.80" y2="376.70" stroke="#0c0c0c" stroke-width="1.2"/>
<line x1="415.00" y1="369.70" x2="425.80" y2="369.70" stroke="#0c0c0c" stroke-width="1.2"/>
<rect x="413.80" y="376.70" width="12.00" height="34.30" fill="#939393" stroke="#0c0c0c" stroke-width="1.2"/>
<text class="s" x="404.50" y="355.50" font-size="8.5" textLength="27.50" lengthAdjust="spacingAndGlyphs" fill="#111">P&lt;0.001</text>
<text class="s" x="387.30" y="419.00" font-size="8.5" textLength="50.60" lengthAdjust="spacingAndGlyphs" fill="#111">MIG RUNX1a</text>
<line x1="451.30" y1="320.00" x2="451.30" y2="412.70" stroke="#0c0c0c" stroke-width="1.2"/>
<line x1="450.80" y1="412.20" x2="515.00" y2="412.20" stroke="#0c0c0c" stroke-width="1.2"/>
<line x1="449.30" y1="340.00" x2="451.30" y2="340.00" stroke="#0c0c0c" stroke-width="1.2"/>
<text class="s" x="449.50" y="342.81" font-size="8.5" text-anchor="end" fill="#111">2</text>
<line x1="449.30" y1="375.00" x2="451.30" y2="375.00" stroke="#0c0c0c" stroke-width="1.2"/>
<text class="s" x="449.50" y="377.81" font-size="8.5" text-anchor="end" fill="#111">1</text>
<text class="s" x="454.50" y="326.30" font-size="8.5" font-style="italic" textLength="15.00" lengthAdjust="spacingAndGlyphs" fill="#111">Pu.1</text>
<line x1="466.60" y1="360.00" x2="466.60" y2="364.50" stroke="#0c0c0c" stroke-width="1.2"/>
<line x1="461.20" y1="360.00" x2="472.70" y2="360.00" stroke="#0c0c0c" stroke-width="1.2"/>
<rect x="460.00" y="364.50" width="13.20" height="47.70" fill="#fff" stroke="#0c0c0c" stroke-width="1.2"/>
<line x1="491.00" y1="373.70" x2="491.00" y2="378.70" stroke="#0c0c0c" stroke-width="1.2"/>
<line x1="485.00" y1="373.70" x2="497.50" y2="373.70" stroke="#0c0c0c" stroke-width="1.2"/>
<rect x="485.00" y="378.70" width="12.00" height="33.50" fill="#939393" stroke="#0c0c0c" stroke-width="1.2"/>
<text class="s" x="467.00" y="357.50" font-size="8.5" textLength="26.30" lengthAdjust="spacingAndGlyphs" fill="#111">P= 0.02</text>
<text class="s" x="458.00" y="419.80" font-size="8.5" textLength="50.80" lengthAdjust="spacingAndGlyphs" fill="#111">MIG RUNX1a</text>
</g>
</svg>
</body></html>
